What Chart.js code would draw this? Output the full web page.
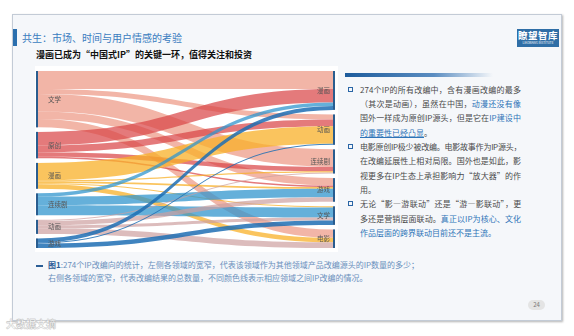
<!DOCTYPE html>
<html lang="zh-CN">
<head>
<meta charset="utf-8">
<title>漫画已成为“中国式IP”的关键一环</title>
<script src="https://cdn.jsdelivr.net/npm/chart.js@4.4.0/dist/chart.umd.min.js"></script>
<style>
  html, body { margin: 0; padding: 0; }
  body {
    width: 574px; height: 336px; overflow: hidden; position: relative;
    background: #fff;
    font-family: "Noto Sans CJK SC", "Noto Sans", sans-serif;
  }
  .abs { position: absolute; }
  .slide {
    left: 12px; top: 14px; width: 548px; height: 305px;
    background: #f5f7fa; border: 1px solid #c3cbd6;
    box-shadow: 1px 1px 2px rgba(0, 0, 0, .3);
  }
  .title-mark { left: 13px; top: 29px; width: 4px; height: 17px; background: #2b6fae; }
  .title { left: 22px; top: 30px; font-size: 10px; line-height: 16px; color: #3a7cbf; white-space: nowrap; }
  .logo {
    left: 517px; top: 29px; width: 42px; height: 18px; background: #2f6ea6;
    color: #fff; text-align: center; overflow: hidden;
  }
  .logo .cn { font-size: 9.5px; font-weight: bold; line-height: 12px; letter-spacing: .5px; }
  .logo .en {
    font-size: 6px; line-height: 6px; white-space: nowrap;
    transform: scale(.5); transform-origin: center top; margin-left: -20px; margin-right: -20px;
  }
  .subtitle { left: 36px; top: 49px; font-size: 9px; font-weight: bold; line-height: 12px; color: #111; white-space: nowrap; }
  .chart-box { left: 35px; top: 66px; width: 303px; height: 186px; background: #fff; }
  .grad {
    left: 345px; top: 73px; width: 148px; height: 4px;
    background: linear-gradient(to right, #1d5c9c, #5b8dc1 60%, rgba(245, 247, 250, 0));
  }
  .para { left: 360px; top: 82.85px; width: 161px; font-size: 8px; color: #4a4a4a; }
  .para div { height: 14.3px; line-height: 14.3px; }
  .para .full { text-align: justify; text-align-last: justify; }
  .para .tight { letter-spacing: -0.45px; }
  .blue { color: #2e74b8; }
  .uline { text-decoration: underline; }
  .sq { left: 348px; width: 3px; height: 3px; border: 1.5px solid #2a66a6; }
  .dash { left: 36px; top: 265px; width: 7px; height: 2px; background: #2b5e95; }
  .caption { left: 48px; top: 259.4px; font-size: 8px; line-height: 12.6px; color: #6a90bd; white-space: nowrap; }
  .caption b { color: #2a5c98; }
  .pg {
    left: 528px; top: 300px; width: 17px; height: 10px; border-radius: 5px;
    background: #e4e4e4; font-size: 6px; line-height: 10px; color: #777; text-align: center;
  }
  .wm {
    left: 6px; top: 318px; font-size: 10px; line-height: 12px; color: #fff; font-weight: bold;
    -webkit-text-stroke: .3px #b5b5b5; text-shadow: 0 0 1px #c8c8c8; white-space: nowrap;
  }
</style>
</head>
<body>
<div class="abs slide"></div>
<div class="abs title-mark"></div>
<div class="abs title">共生：市场、时间与用户情感的考验</div>
<div class="abs logo"><div class="cn">瞭望智库</div><div class="en">LIAOWANG INSTITUTE</div></div>
<div class="abs subtitle">漫画已成为“中国式IP”的关键一环，值得关注和投资</div>

<div class="abs chart-box"><canvas id="sankeyChart" width="303" height="186"></canvas></div>

<div class="abs grad"></div>
<div class="abs sq" style="top:87px"></div>
<div class="abs sq" style="top:144.2px"></div>
<div class="abs sq" style="top:201.4px"></div>
<div class="abs para">
  <div class="full">274个IP的所有改编中，含有漫画改编的最多</div>
  <div class="full">（其次是动画），虽然在中国，<span class="blue">动漫还没有像</span></div>
  <div class="full">国外一样成为原创IP源头，但是它在<span class="blue">IP建设中</span></div>
  <div><span class="blue uline">的重要性已经凸显</span>。</div>
  <div class="full tight">电影原创IP极少被改编。电影故事作为IP源头，</div>
  <div class="full">在改编延展性上相对局限。国外也是如此，影</div>
  <div class="full">视更多在IP生态上承担影响力“放大器”的作</div>
  <div>用。</div>
  <div class="full" style="letter-spacing:-0.15px">无论“影—游联动”还是“游—影联动”，更</div>
  <div class="full">多还是营销层面联动。<span class="blue">真正以IP为核心、文化</span></div>
  <div><span class="blue">作品层面的跨界联动目前还不是主流。</span></div>
</div>

<div class="abs dash"></div>
<div class="abs caption"><b>图1</b>:274个IP改编向的统计，左侧各领域的宽窄，代表该领域作为其他领域产品改编源头的IP数量的多少；<br>右侧各领域的宽窄，代表改编结果的总数量，不同颜色线表示相应领域之间IP改编的情况。</div>
<div class="abs pg">24</div>
<div class="abs wm">大数据文摘</div>

<script>
// IP 来源 (左) 与 改编结果 (右)
const sourceLabels = ['文学', '原创', '漫画', '连续剧', '动画', '游戏'];
const targetLabels = ['漫画', '动画', '连续剧', '游戏', '文学', '电影'];

// one row per source, one column per target (number of IPs)
const fromWenxue     = [32, 9, 31, 13, 0, 15];
const fromYuanchuang = [24, 12, 8, 3, 0, 0];
const fromManhua     = [0, 31, 2, 3, 2, 8];
const fromLianxuju   = [6, 0, 0, 15, 18, 0];
const fromDonghua    = [0, 0, 2, 8, 5, 10];
const fromYouxi      = [7, 2, 0, 0, 8, 0];
const flowValues = [fromWenxue, fromYuanchuang, fromManhua, fromLianxuju, fromDonghua, fromYouxi];

const sourceColors = [
    'rgba(236, 150, 130, 0.7)',
    'rgba(218, 70, 72, 0.72)',
    'rgba(248, 176, 40, 0.75)',
    'rgba(50, 150, 205, 0.75)',
    'rgba(205, 160, 160, 0.7)',
    'rgba(30, 110, 180, 0.85)'
];
const nodeGap = 8; // space between nodes, in IP units

const sum = arr => arr.reduce((a, b) => a + b, 0);
const leftTotals = flowValues.map(sum);
const rightTotals = targetLabels.map((_, j) => sum(flowValues.map(r => r[j])));
const yMax = Math.max(sum(leftTotals), sum(rightTotals)) + nodeGap * (sourceLabels.length - 1);

function nodeStarts(totals) {
    let acc = 0;
    return totals.map(t => { const s = acc; acc += t + nodeGap; return s; });
}

const sankeyPlugin = {
    id: 'sankeyFlows',
    afterDraw(chart) {
        const { ctx, scales: { x, y } } = chart;
        const xl = x.getPixelForValue(0);
        const xr = x.getPixelForValue(1);
        const barW = 2;
        const ls = nodeStarts(leftTotals);
        const rs = nodeStarts(rightTotals);
        const rOff = rs.slice();

        ctx.save();
        // flows
        flowValues.forEach((row, i) => {
            let sOff = ls[i];
            row.forEach((v, j) => {
                if (!v) return;
                const x0 = xl + barW, x1 = xr - barW, xm = (x0 + x1) / 2;
                const s0 = y.getPixelForValue(sOff), s1 = y.getPixelForValue(sOff + v);
                const t0 = y.getPixelForValue(rOff[j]), t1 = y.getPixelForValue(rOff[j] + v);
                ctx.beginPath();
                ctx.moveTo(x0, s0);
                ctx.bezierCurveTo(xm, s0, xm, t0, x1, t0);
                ctx.lineTo(x1, t1);
                ctx.bezierCurveTo(xm, t1, xm, s1, x0, s1);
                ctx.closePath();
                ctx.fillStyle = sourceColors[i];
                ctx.fill();
                sOff += v;
                rOff[j] += v;
            });
        });

        // node bars + labels
        ctx.fillStyle = '#2a5d8f';
        leftTotals.forEach((t, i) => {
            const top = y.getPixelForValue(ls[i]);
            ctx.fillRect(xl, top, barW, y.getPixelForValue(ls[i] + t) - top);
        });
        rightTotals.forEach((t, j) => {
            const top = y.getPixelForValue(rs[j]);
            ctx.fillRect(xr - barW, top, barW, y.getPixelForValue(rs[j] + t) - top);
        });

        ctx.font = '6.5px "Noto Sans CJK SC", sans-serif';
        ctx.fillStyle = '#555';
        ctx.textBaseline = 'middle';
        ctx.textAlign = 'left';
        sourceLabels.forEach((lbl, i) => {
            ctx.fillText(lbl, xl + 12, y.getPixelForValue(ls[i] + leftTotals[i] / 2));
        });
        ctx.textAlign = 'right';
        targetLabels.forEach((lbl, j) => {
            ctx.fillText(lbl, xr - 5, y.getPixelForValue(rs[j] + rightTotals[j] / 2));
        });
        ctx.restore();
    }
};

document.addEventListener('DOMContentLoaded', function() {
    const ctx = document.getElementById('sankeyChart');
    new Chart(ctx, {
        type: 'scatter',
        data: { datasets: [] },
        options: {
            responsive: false,
            animation: false,
            layout: { padding: { left: 1, right: 3, top: 5, bottom: 4 } },
            plugins: { legend: { display: false }, tooltip: { enabled: false } },
            scales: {
                x: { type: 'linear', min: 0, max: 1, display: false },
                y: { type: 'linear', min: 0, max: yMax, reverse: true, display: false }
            }
        },
        plugins: [sankeyPlugin]
    });
});
</script>
</body>
</html>
